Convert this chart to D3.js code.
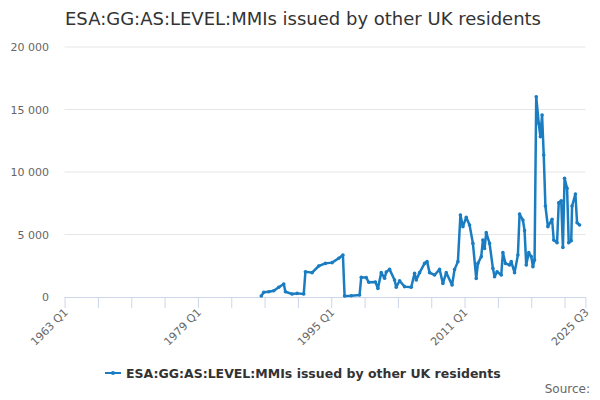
<!DOCTYPE html>
<html><head><meta charset="utf-8">
<script src="https://cdn.jsdelivr.net/npm/d3@7"></script>
<style>body{margin:0;font-family:"DejaVu Sans",sans-serif;}</style>
</head><body><svg id="chart" width="600" height="400"></svg>
<script>
var seriesName = "ESA:GG:AS:LEVEL:MMIs issued by other UK residents";
var years = [1986.6,1986.9,1987.5,1988.1,1988.7,1989.3,1989.5,1990.3,1990.9,1991.7,1991.9,1992.7,1993.5,1994.3,1995.1,1995.9,1996.4,1996.6,1997.4,1998.4,1998.6,1999.2,1999.5,2000.3,2000.6,2001.0,2001.4,2001.6,2002.0,2002.6,2002.8,2003.2,2003.8,2004.6,2005.0,2005.2,2005.6,2006.2,2006.5,2006.8,2007.4,2008.0,2008.4,2008.8,2009.5,2009.8,2010.2,2010.5,2010.8,2011.2,2011.6,2012.0,2012.4,2012.6,2013.0,2013.2,2013.4,2013.6,2014.0,2014.4,2014.6,2014.9,2015.4,2015.6,2015.9,2016.4,2016.6,2017.0,2017.4,2017.6,2018.0,2018.2,2018.4,2018.7,2019.0,2019.2,2019.4,2019.6,2019.9,2020.1,2020.3,2020.5,2020.7,2021.0,2021.5,2021.7,2022.1,2022.3,2022.6,2022.8,2023.0,2023.3,2023.5,2023.8,2023.9,2024.3,2024.5,2024.8];
var values = [80,380,420,500,780,1040,420,240,290,240,2020,1950,2480,2690,2750,3100,3360,80,100,160,1580,1550,1180,1200,690,1950,1500,2000,2210,1360,780,1300,830,780,1900,1360,1950,2690,2830,1950,1760,2210,1090,1950,960,2210,2830,6560,5630,6370,5760,4290,1490,2690,3230,4560,3890,5150,4290,2290,1620,2020,1760,3550,2690,2560,2830,1950,3360,6640,6160,5310,2560,3550,3230,2430,2960,16020,13900,12830,14560,11360,7280,5630,6220,4560,4340,7540,7700,3970,9500,8700,4340,4500,7280,8240,5940,5760];
var yTicks = [0,5000,10000,15000,20000];
var xLabels = [[1963,"1963 Q1"],[1979,"1979 Q1"],[1995,"1995 Q1"],[2011,"2011 Q1"],[2025.5,"2025 Q3"]];
var color = "#1a7dc2";

var svg = d3.select("#chart");
var x = d3.scaleLinear().domain([1963,2025.5]).range([64.6,585.4]);
var y = d3.scaleLinear().domain([0,20000]).range([297,47]);
var fmt = function(v){ return d3.format(",")(v).replace(/,/g," "); };

// grid + y labels
svg.selectAll(".grid").data(yTicks.slice(1)).enter().append("line")
  .attr("x1",64.6).attr("x2",585.4).attr("y1",y).attr("y2",y)
  .attr("stroke","#e6e6e6").attr("stroke-width",1);
svg.selectAll(".ylab").data(yTicks).enter().append("text")
  .attr("x",49).attr("y",function(d){return y(d)+4;}).attr("text-anchor","end")
  .attr("font-size",11).attr("fill","#666").text(fmt);

// x axis
svg.append("line").attr("x1",64.6).attr("x2",585.4).attr("y1",297.5).attr("y2",297.5).attr("stroke","#ccd6eb");
var minor = d3.range(1963,2025,4).concat([2025.5]);
svg.selectAll(".xt").data(minor).enter().append("line")
  .attr("x1",function(d){return x(d)+0.5;}).attr("x2",function(d){return x(d)+0.5;})
  .attr("y1",297).attr("y2",308).attr("stroke","#ccd6eb");
svg.selectAll(".xl").data(xLabels).enter().append("text")
  .attr("transform",function(d){return "translate("+(x(d[0])+4)+",313) rotate(-45)";})
  .attr("text-anchor","end").attr("font-size",11).attr("fill","#666").text(function(d){return d[1];});

// line
var pts = years.map(function(t,i){return [t,values[i]];});
svg.append("path").datum(pts)
  .attr("d",d3.line().x(function(d){return x(d[0]);}).y(function(d){return y(d[1]);}))
  .attr("fill","none").attr("stroke",color).attr("stroke-width",2.5).attr("stroke-linejoin","round");
svg.selectAll(".pt").data(pts).enter().append("circle")
  .attr("cx",function(d){return x(d[0]);}).attr("cy",function(d){return y(d[1]);})
  .attr("r",1.8).attr("fill",color);

// title
svg.append("text").attr("x",65).attr("y",25).attr("font-size",18).attr("fill","#333").text(seriesName);

// legend
var lg = svg.append("g").attr("transform","translate(105,373)");
lg.append("line").attr("x1",0).attr("x2",16).attr("y1",0).attr("y2",0).attr("stroke",color).attr("stroke-width",2);
lg.append("circle").attr("cx",8).attr("cy",0).attr("r",2).attr("fill",color);
lg.append("text").attr("x",21).attr("y",4.5).attr("font-size",12.5).attr("font-weight","bold").attr("fill","#333").text(seriesName);

svg.append("text").attr("x",590).attr("y",393).attr("text-anchor","end").attr("font-size",12).attr("fill","#666").text("Source:");
</script></body></html>
